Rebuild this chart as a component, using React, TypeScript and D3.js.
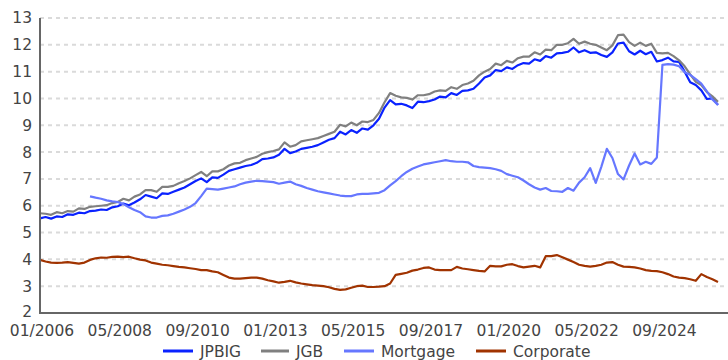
import React from "react";
import * as d3 from "d3";

// Yields (%) sampled every two months, starting 01/2006
const startYear = 2006;
const stepMonths = 2;

const seriesNames = ["JPBIG", "JGB", "Mortgage", "Corporate"];
const seriesColors = ["#0a22ff", "#808080", "#6677ff", "#a03300"];

const jpbig = [
  5.53, 5.58, 5.52, 5.6, 5.58, 5.68, 5.66, 5.74, 5.72, 5.8,
  5.82, 5.86, 5.84, 5.94, 5.98, 6.08, 6.02, 6.12, 6.24, 6.4,
  6.34, 6.28, 6.46, 6.44, 6.52, 6.6, 6.68, 6.8, 6.92, 7.02,
  6.88, 7.06, 7.04, 7.16, 7.3, 7.36, 7.42, 7.48, 7.52, 7.6,
  7.74, 7.76, 7.8, 7.9, 8.12, 7.96, 8.02, 8.12, 8.16, 8.2,
  8.26, 8.36, 8.46, 8.52, 8.76, 8.66, 8.82, 8.72, 8.88, 8.84,
  9.0, 9.24, 9.66, 9.94, 9.78, 9.8, 9.74, 9.64, 9.88, 9.86,
  9.9, 9.96, 10.07, 10.04, 10.2, 10.13, 10.28, 10.3, 10.36, 10.56,
  10.78, 10.86, 11.06, 11.02, 11.16, 11.1, 11.24, 11.32, 11.3, 11.46,
  11.4, 11.58, 11.52, 11.68, 11.7, 11.74, 11.9, 11.72, 11.8, 11.7,
  11.72, 11.62, 11.55, 11.72, 12.05, 12.08, 11.76, 11.64, 11.78, 11.65,
  11.74, 11.38, 11.43, 11.52, 11.38, 11.36, 11.0, 10.6, 10.5, 10.3,
  9.98, 10.0, 9.76,
];

const jgb = [
  5.72, 5.7, 5.66, 5.76, 5.72, 5.8, 5.78, 5.9, 5.88, 5.96,
  5.98, 6.0, 6.02, 6.1, 6.14, 6.26, 6.2, 6.34, 6.42, 6.58,
  6.58, 6.52, 6.7, 6.7, 6.74, 6.84, 6.92, 7.02, 7.14, 7.26,
  7.1, 7.28, 7.28, 7.36, 7.5, 7.58, 7.6, 7.7, 7.76, 7.82,
  7.94, 8.0, 8.04, 8.1, 8.36, 8.2, 8.26, 8.4, 8.44, 8.48,
  8.52, 8.6, 8.68, 8.76, 9.02, 8.96, 9.1, 9.0, 9.14, 9.12,
  9.2, 9.46, 9.86, 10.2, 10.1, 10.04, 10.02, 9.96, 10.12, 10.12,
  10.16, 10.26, 10.3, 10.28, 10.42, 10.36, 10.5, 10.56, 10.66, 10.86,
  11.0, 11.1, 11.3, 11.24, 11.4, 11.34, 11.5, 11.56, 11.56, 11.72,
  11.64, 11.82, 11.8, 12.0, 12.0, 12.06, 12.22, 12.04, 12.12, 12.04,
  12.0, 11.9, 11.8, 11.98, 12.36, 12.38, 12.1, 11.96, 12.08, 11.96,
  12.04, 11.7, 11.68, 11.7, 11.58, 11.42, 11.2, 10.9, 10.62, 10.5,
  10.24, 10.08, 9.88,
];

const mortgage = [
  null, null, null, null, null, null, null, null, null, 6.35,
  6.3, 6.26, 6.2, 6.16, 6.14, 6.06, 5.94, 5.84, 5.76, 5.6,
  5.56, 5.56, 5.62, 5.64, 5.7, 5.78, 5.86, 5.96, 6.1, 6.36,
  6.64, 6.62, 6.6, 6.64, 6.68, 6.72, 6.8, 6.86, 6.9, 6.93,
  6.92, 6.9, 6.88, 6.82, 6.86, 6.9, 6.8, 6.74, 6.66, 6.6,
  6.54, 6.5, 6.46, 6.42, 6.38, 6.36, 6.36, 6.42, 6.44, 6.44,
  6.46, 6.48, 6.58, 6.76, 6.92, 7.1, 7.26, 7.38, 7.46, 7.54,
  7.58, 7.62, 7.66, 7.7, 7.66, 7.64, 7.64, 7.62, 7.48, 7.44,
  7.42, 7.4, 7.36, 7.3, 7.18, 7.12, 7.06, 6.94, 6.8, 6.68,
  6.6, 6.66, 6.55, 6.54, 6.52, 6.66, 6.56, 6.86, 7.06, 7.4,
  6.85, 7.45, 8.12, 7.78, 7.18, 6.98, 7.5, 7.95, 7.54, 7.64,
  7.56, 7.8, 11.25, 11.28, 11.26, 11.2, 10.98, 10.88, 10.72, 10.55,
  10.26, 9.96, 9.76,
];

const corporate = [
  3.98, 3.92, 3.88, 3.87, 3.88, 3.9, 3.87, 3.84, 3.88, 3.98,
  4.04, 4.07, 4.06, 4.09, 4.1, 4.08, 4.1, 4.04, 3.99, 3.96,
  3.88, 3.84, 3.8, 3.78, 3.75, 3.72, 3.7, 3.67, 3.64, 3.6,
  3.6, 3.55, 3.52, 3.42, 3.32, 3.28, 3.28, 3.3, 3.32, 3.32,
  3.28, 3.22, 3.18, 3.13, 3.16, 3.2, 3.14, 3.1, 3.07, 3.04,
  3.02, 3.0, 2.96, 2.9, 2.86, 2.88, 2.94, 3.0, 3.02, 2.97,
  2.97, 2.98, 3.0, 3.1, 3.42, 3.46, 3.5, 3.58, 3.62, 3.68,
  3.7, 3.62, 3.6, 3.6, 3.6, 3.72, 3.66, 3.63, 3.6, 3.57,
  3.55, 3.76, 3.74, 3.74, 3.8, 3.82, 3.75, 3.7, 3.73, 3.76,
  3.7, 4.12, 4.12, 4.16, 4.08, 3.99, 3.9, 3.8, 3.76, 3.73,
  3.76, 3.8, 3.88, 3.9, 3.8, 3.73, 3.72, 3.7, 3.66, 3.6,
  3.57, 3.56, 3.52, 3.45, 3.36, 3.32, 3.3, 3.26, 3.2, 3.45,
  3.34, 3.26, 3.16,
];

const yTicks = [2, 3, 4, 5, 6, 7, 8, 9, 10, 11, 12, 13];
const xTickLabels = [
  "01/2006", "05/2008", "09/2010", "01/2013", "05/2015",
  "09/2017", "01/2020", "05/2022", "09/2024",
];

const W = 728;
const H = 360;
const margin = { left: 40, right: 10, top: 18, bottom: 47 };
const font = "'DejaVu Sans', Verdana, sans-serif";
const fontSize = 15.5;

const monthOf = (label: string) => {
  const [mm, yyyy] = label.split("/").map(Number);
  return (yyyy - startYear) * 12 + (mm - 1);
};

export default function App() {
  const series = [jpbig, jgb, mortgage, corporate];
  const lastMonth = (jpbig.length - 1) * stepMonths;

  const x = d3.scaleLinear().domain([0, lastMonth]).range([margin.left, W - margin.right]);
  const y = d3.scaleLinear().domain([2, 13]).range([H - margin.bottom, margin.top]);

  const line = d3
    .line<number | null>()
    .defined((d) => d != null)
    .x((_, i) => x(i * stepMonths))
    .y((d) => y(d as number));

  const legendItems = [
    { x: 163, w: 30 },
    { x: 261, w: 28 },
    { x: 344, w: 30 },
    { x: 476, w: 30 },
  ];

  return (
    <svg
      width={W}
      height={H}
      style={{ position: "absolute", left: 0, top: 0, background: "#fff" }}
      fontFamily={font}
    >
      {/* grid */}
      {yTicks.slice(1).map((t) => (
        <line
          key={"g" + t}
          x1={margin.left}
          x2={W}
          y1={y(t)}
          y2={y(t)}
          stroke="#dadada"
          strokeWidth={2}
          strokeDasharray="4,4"
        />
      ))}
      {/* y labels */}
      {yTicks.map((t) => (
        <text
          key={"y" + t}
          x={32}
          y={y(t) - (t === 2 ? 1 : 0)}
          dy="0.35em"
          textAnchor="end"
          fontSize={fontSize}
          fill="#444"
        >
          {t}
        </text>
      ))}
      {/* x labels */}
      {xTickLabels.map((l) => (
        <text
          key={l}
          x={x(monthOf(l)) + 2}
          y={H - margin.bottom + 23}
          textAnchor="middle"
          fontSize={fontSize}
          fill="#444"
        >
          {l}
        </text>
      ))}
      {/* series */}
      {series.map((s, i) => (
        <path
          key={seriesNames[i]}
          d={line(s) || ""}
          fill="none"
          stroke={seriesColors[i]}
          strokeWidth={2.2}
          strokeLinejoin="round"
        />
      ))}
      {/* axes */}
      <line x1={margin.left} x2={margin.left} y1={margin.top} y2={H - margin.bottom} stroke="#666" strokeWidth={2} />
      <line x1={margin.left - 1} x2={W} y1={H - margin.bottom} y2={H - margin.bottom} stroke="#666" strokeWidth={2} />
      {/* legend */}
      {seriesNames.map((n, i) => (
        <g key={"l" + n}>
          <line
            x1={legendItems[i].x}
            x2={legendItems[i].x + legendItems[i].w}
            y1={351}
            y2={351}
            stroke={seriesColors[i]}
            strokeWidth={3}
          />
          <text
            x={legendItems[i].x + legendItems[i].w + 7}
            y={351}
            dy="0.36em"
            fontSize={fontSize}
            fill="#444"
          >
            {n}
          </text>
        </g>
      ))}
    </svg>
  );
}
